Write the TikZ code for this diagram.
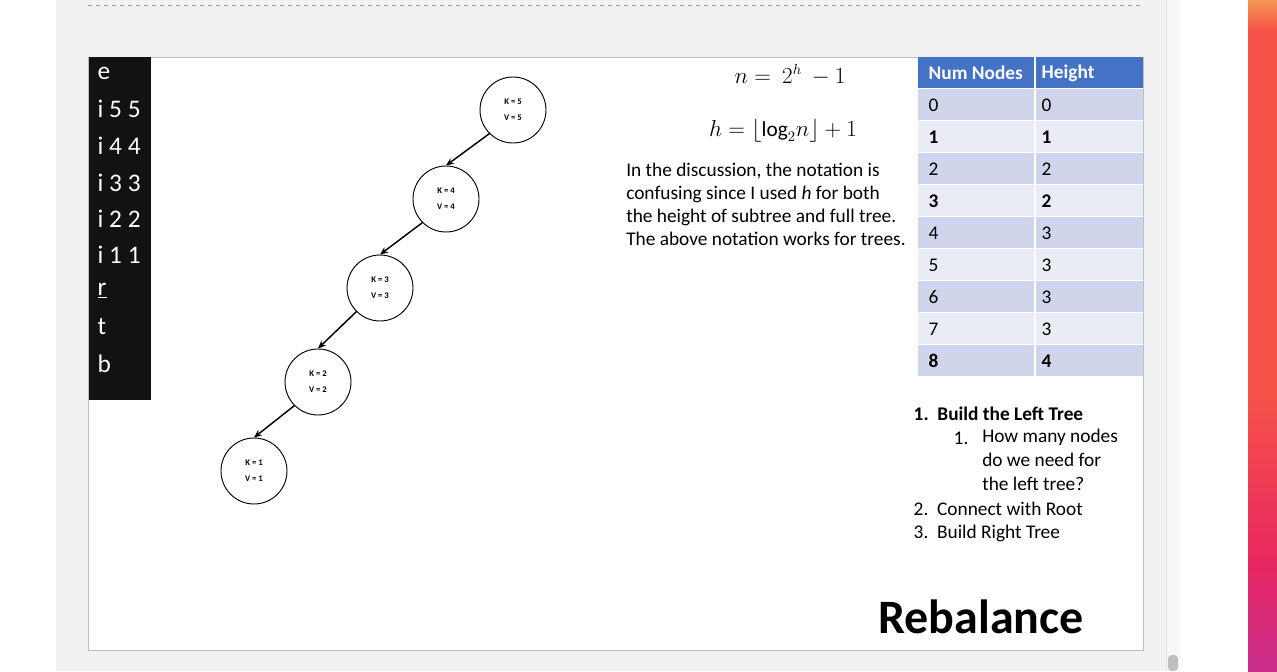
\documentclass[tikz,border=0pt]{standalone}
\usepackage{fontspec}
\setmainfont{Carlito}
\usetikzlibrary{arrows.meta}
\definecolor{bgg}{HTML}{F1F1F1}
\definecolor{hdr}{HTML}{4472C4}
\definecolor{rowa}{HTML}{CFD5EA}
\definecolor{rowb}{HTML}{E9EBF5}
\definecolor{gA}{RGB}{245,150,85}
\definecolor{gB}{RGB}{246,84,72}
\definecolor{gC}{RGB}{232,40,95}
\definecolor{gD}{RGB}{200,45,140}
\begin{document}
\begin{tikzpicture}[x=0.75pt,y=-0.75pt,
  tn/.style={circle,draw,line width=0.7pt,minimum size=66*0.75pt,inner sep=0pt,align=center,font=\fontsize{6.5}{12}\selectfont\bfseries},
  edge/.style={-{Stealth[length=6pt,width=5pt]},line width=1.1pt},
  side/.style={anchor=west,text=white,font=\fontsize{19}{19}\selectfont},
  cell/.style={anchor=west,font=\fontsize{14.5}{14.5}\selectfont},
  body/.style={anchor=west,font=\fontsize{14.5}{14.5}\selectfont}]
\useasboundingbox (0,0) rectangle (1277,671);
\fill[white] (0,0) rectangle (56,671);
\fill[bgg] (56,0) rectangle (1166,671);
\fill[white!97!black] (1166,0) rectangle (1180,671);
\draw[white!88!black] (1166,0) -- (1166,671) (1180,0)--(1180,671);
\fill[white] (1180,0) rectangle (1248,671);
\shade[top color=gA, bottom color=gB] (1248,0) rectangle (1277,30);
\fill[gB] (1248,30) rectangle (1277,390);
\shade[top color=gB, bottom color=gC] (1248,390) rectangle (1277,560);
\shade[top color=gC, bottom color=gD] (1248,560) rectangle (1277,671);
\fill[white!75!black,rounded corners=3] (1168,655) rectangle (1178,671);
\draw[dashed,white!60!black,line width=0.5pt] (88,5) -- (1142,5);
% slide
\draw[fill=white,draw=white!75!black] (88,57) rectangle (1143,650);
\fill[black!93] (89,57) rectangle (151,400);
\node[side] (s1) at (93,73) {e};
\node[side] (s2) at (93,109) {i 5 5};
\node[side] (s3) at (93,146) {i 4 4};
\node[side] (s4) at (93,183) {i 3 3};
\node[side] (s5) at (93,219) {i 2 2};
\node[side] (s6) at (93,255) {i 1 1};
\node[side] (s7) at (93,291) {\underline{r}};
\node[side] (s8) at (93,327) {t};
\node[side] (s9) at (93,364) {b};
% tree
\node[tn] (n5) at (513,110) {K = 5\\V = 5};
\node[tn] (n4) at (446,199) {K = 4\\V = 4};
\node[tn] (n3) at (380,288) {K = 3\\V = 3};
\node[tn] (n2) at (318,382) {K = 2\\V = 2};
\node[tn] (n1) at (254,471) {K = 1\\V = 1};
\draw[edge] (n5.-135) -- (n4.north);
\draw[edge] (n4.-135) -- (n3.north);
\draw[edge] (n3.-135) -- (n2.north);
\draw[edge] (n2.-135) -- (n1.north);
% formulas
\node[font=\fontsize{16}{16}\selectfont] (f1) at (790,75) {$n =\ 2^h\ -1$};
\node[font=\fontsize{16}{16}\selectfont] (f2) at (783,131) {$h = \lfloor \mathrm{log}_2 n\rfloor + 1$};
\node[body,anchor=north west,align=left,font=\fontsize{14.5}{17.3}\selectfont,inner sep=0pt] (p) at (626,163) {In the discussion, the notation is\\confusing since I used \textit{h} for both\\the height of subtree and full tree.\\The above notation works for trees.};
% table
\fill[hdr] (918,57) rectangle (1143,88);
\foreach \i in {0,...,8}{
  \pgfmathsetmacro{\yy}{89+32*\i}
  \ifodd\i \def\cc{rowb}\else\def\cc{rowa}\fi
  \fill[\cc] (918,\yy) rectangle (1143,\yy+31);
}
\draw[white,line width=1.5pt] (1035,57) -- (1035,377);
\node[cell,text=white,font=\fontsize{14.5}{14.5}\selectfont\bfseries] (h1) at (924,73) {Num Nodes};
\node[cell,text=white,font=\fontsize{14.5}{14.5}\selectfont\bfseries] (h2) at (1037,73) {Height};
\foreach \a/\b/\bf [count=\i from 0] in {0/0/,1/1/\bfseries,2/2/,3/2/\bfseries,4/3/,5/3/,6/3/,7/3/,8/4/\bfseries}{
  \pgfmathsetmacro{\yy}{105+32*\i}
  \node[cell,font=\fontsize{14.5}{14.5}\selectfont\bf] (a\i) at (924,\yy) {\a};
  \node[cell,font=\fontsize{14.5}{14.5}\selectfont\bf] (b\i) at (1037,\yy) {\b};
}
% list
\node[body,font=\fontsize{14.5}{14.5}\selectfont\bfseries] (l1) at (909,414) {1.\ \ Build the Left Tree};
\node[body] (l1a) at (949,438) {1.};
\node[body,anchor=north west,align=left,font=\fontsize{14.5}{18}\selectfont,inner sep=0pt] (l1b) at (982,429) {How many nodes\\do we need for\\the left tree?};
\node[body] (l2) at (909,509) {2.\ \ Connect with Root};
\node[body] (l3) at (909,533) {3.\ \ Build Right Tree};
\node[font=\fontsize{36}{36}\selectfont\bfseries] (rb) at (981,617) {Rebalance};
\end{tikzpicture}
\end{document}
